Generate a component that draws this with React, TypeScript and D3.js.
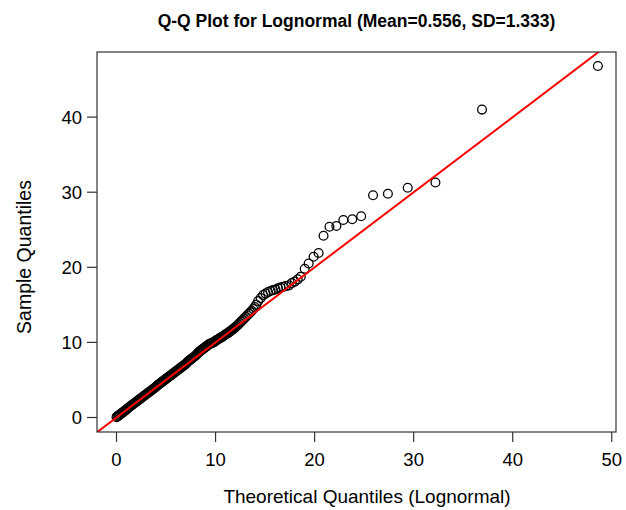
import React from "react";
import * as d3 from "d3";

// theoretical quantiles (lognormal) and matching sample quantiles
const theoretical: number[] = [
  0.0, 0.1, 0.2, 0.3, 0.4, 0.5, 0.6, 0.7, 0.8, 0.9,
  1.0, 1.1, 1.2, 1.3, 1.4, 1.5, 1.6, 1.7, 1.8, 1.9,
  2.0, 2.1, 2.2, 2.3, 2.4, 2.5, 2.6, 2.7, 2.8, 2.9,
  3.0, 3.1, 3.2, 3.3, 3.4, 3.5, 3.6, 3.7, 3.8, 3.9,
  4.0, 4.1, 4.2, 4.3, 4.4, 4.5, 4.6, 4.7, 4.8, 4.9,
  5.0, 5.1, 5.2, 5.3, 5.4, 5.5, 5.6, 5.7, 5.8, 5.9,
  6.0, 6.1, 6.2, 6.3, 6.4, 6.5, 6.6, 6.7, 6.8, 6.9,
  7.0, 7.1, 7.2, 7.3, 7.4, 7.5, 7.6, 7.7, 7.8, 7.9,
  8.0, 8.1, 8.2, 8.3, 8.4, 8.5, 8.6, 8.7, 8.8, 8.9,
  9.0, 9.1, 9.2, 9.3, 9.4, 9.5, 9.6, 9.7, 9.8, 9.9,
  10.0, 10.1, 10.2, 10.3, 10.4, 10.5, 10.6, 10.7, 10.8, 10.9,
  11.0, 11.1, 11.2, 11.3, 11.4, 11.5, 11.6, 11.7, 11.8, 11.9,
  12.0, 12.15, 12.3, 12.45, 12.6, 12.75, 12.9, 13.05, 13.2, 13.35,
  13.5, 13.65, 13.8, 13.95, 14.1,
  14.3, 14.55, 14.8, 15.05, 15.3, 15.55, 15.8, 16.05, 16.3, 16.55,
  16.8, 17.1, 17.4, 17.7, 18.0, 18.3, 18.6,
  19.0, 19.4, 19.9, 20.4, 20.9, 21.5, 22.2, 22.9, 23.8, 24.7,
  25.9, 27.4, 29.4, 32.2, 36.9, 48.6,
];

const sample: number[] = [
  0.05, 0.15, 0.25, 0.35, 0.45, 0.55, 0.65, 0.75, 0.85, 0.95,
  1.05, 1.2, 1.3, 1.4, 1.5, 1.6, 1.7, 1.8, 1.9, 2.0,
  2.1, 2.2, 2.3, 2.4, 2.5, 2.6, 2.7, 2.8, 2.9, 3.0,
  3.1, 3.2, 3.3, 3.4, 3.5, 3.6, 3.7, 3.8, 3.9, 4.0,
  4.1, 4.25, 4.35, 4.45, 4.55, 4.65, 4.75, 4.85, 4.95, 5.05,
  5.15, 5.25, 5.35, 5.45, 5.55, 5.65, 5.75, 5.85, 5.95, 6.05,
  6.15, 6.25, 6.35, 6.45, 6.55, 6.65, 6.75, 6.85, 6.95, 7.05,
  7.15, 7.3, 7.45, 7.55, 7.65, 7.75, 7.85, 7.95, 8.05, 8.15,
  8.25, 8.4, 8.55, 8.7, 8.8, 8.9, 9.0, 9.1, 9.2, 9.3,
  9.4, 9.5, 9.6, 9.7, 9.8, 9.85, 9.9, 9.95, 10.0, 10.1,
  10.2, 10.3, 10.35, 10.45, 10.55, 10.6, 10.7, 10.75, 10.85, 10.95,
  11.05, 11.15, 11.2, 11.3, 11.4, 11.5, 11.6, 11.7, 11.8, 11.9,
  12.05, 12.2, 12.4, 12.6, 12.8, 13.0, 13.2, 13.4, 13.6, 13.8,
  14.0, 14.2, 14.45, 14.7, 15.0,
  15.5, 15.9, 16.3, 16.5, 16.7, 16.85, 16.96, 17.05, 17.2, 17.3,
  17.4, 17.5, 17.6, 17.9, 18.1, 18.4, 18.75,
  19.8, 20.5, 21.4, 21.9, 24.2, 25.4, 25.5, 26.3, 26.4, 26.8,
  29.6, 29.8, 30.6, 31.3, 41.0, 46.8,
];

const xTicks = [0, 10, 20, 30, 40, 50];
const yTicks = [0, 10, 20, 30, 40];
const refIntercept = 0;
const refSlope = 1;

const title = "Q-Q Plot for Lognormal (Mean=0.556, SD=1.333)";
const xLabel = "Theoretical Quantiles (Lognormal)";
const yLabel = "Sample Quantiles";

const width = 626;
const height = 510;
const margin = { left: 97, right: 10, top: 52, bottom: 78 };
const font = "'Liberation Sans', Arial, Helvetica, sans-serif";

export default function App() {
  const x = d3
    .scaleLinear()
    .domain([-1.97, 50.43])
    .range([margin.left, width - margin.right]);
  const y = d3
    .scaleLinear()
    .domain([-1.93, 48.67])
    .range([height - margin.bottom, margin.top]);

  const [x0, x1] = x.range();
  const [yb, yt] = y.range();
  const points = theoretical.map((t, i) => [t, sample[i]]);

  // reference line across the x domain, clipped to the box
  const [dx0, dx1] = x.domain();
  const line = d3.line<number>()
    .x((d) => x(d))
    .y((d) => y(refIntercept + refSlope * d));

  return (
    <svg
      width={width}
      height={height}
      style={{ position: "absolute", left: 0, top: 0, background: "#fff" }}
      fontFamily={font}
    >
      <defs>
        <clipPath id="plotArea">
          <rect x={x0} y={yt} width={x1 - x0} height={yb - yt} />
        </clipPath>
      </defs>

      <text
        x={(x0 + x1) / 2}
        y={27}
        textAnchor="middle"
        fontWeight="bold"
        fontSize={17.5}
        fill="#000"
      >
        {title}
      </text>

      {/* points */}
      <g clipPath="url(#plotArea)">
        {points.map((d, i) => (
          <circle
            key={i}
            cx={x(d[0])}
            cy={y(d[1])}
            r={4.4}
            fill="none"
            stroke="#000"
            strokeWidth={1.3}
          />
        ))}
        <path
          d={line([dx0, dx1]) || ""}
          fill="none"
          stroke="#ff0000"
          strokeWidth={2}
        />
      </g>

      {/* box */}
      <rect
        x={x0}
        y={yt}
        width={x1 - x0}
        height={yb - yt}
        fill="none"
        stroke="#333"
        strokeWidth={1.2}
      />

      {/* x axis */}
      <g>
        {xTicks.map((t) => (
          <g key={t}>
            <line x1={x(t)} x2={x(t)} y1={yb} y2={yb + 10} stroke="#333" strokeWidth={1.2} />
            <text x={x(t)} y={yb + 34} textAnchor="middle" fontSize={18.5} fill="#000">
              {t}
            </text>
          </g>
        ))}
      </g>

      {/* y axis */}
      <g>
        {yTicks.map((t) => (
          <g key={t}>
            <line x1={x0} x2={x0 - 10} y1={y(t)} y2={y(t)} stroke="#333" strokeWidth={1.2} />
            <text
              x={x0 - 15}
              y={y(t)}
              dy="0.35em"
              textAnchor="end"
              fontSize={18.5}
              fill="#000"
            >
              {t}
            </text>
          </g>
        ))}
      </g>

      <text x={367} y={503} textAnchor="middle" fontSize={19} fill="#000">
        {xLabel}
      </text>
      <text
        transform={`translate(31, 257) rotate(-90)`}
        textAnchor="middle"
        fontSize={19.5}
        fill="#000"
      >
        {yLabel}
      </text>
    </svg>
  );
}
